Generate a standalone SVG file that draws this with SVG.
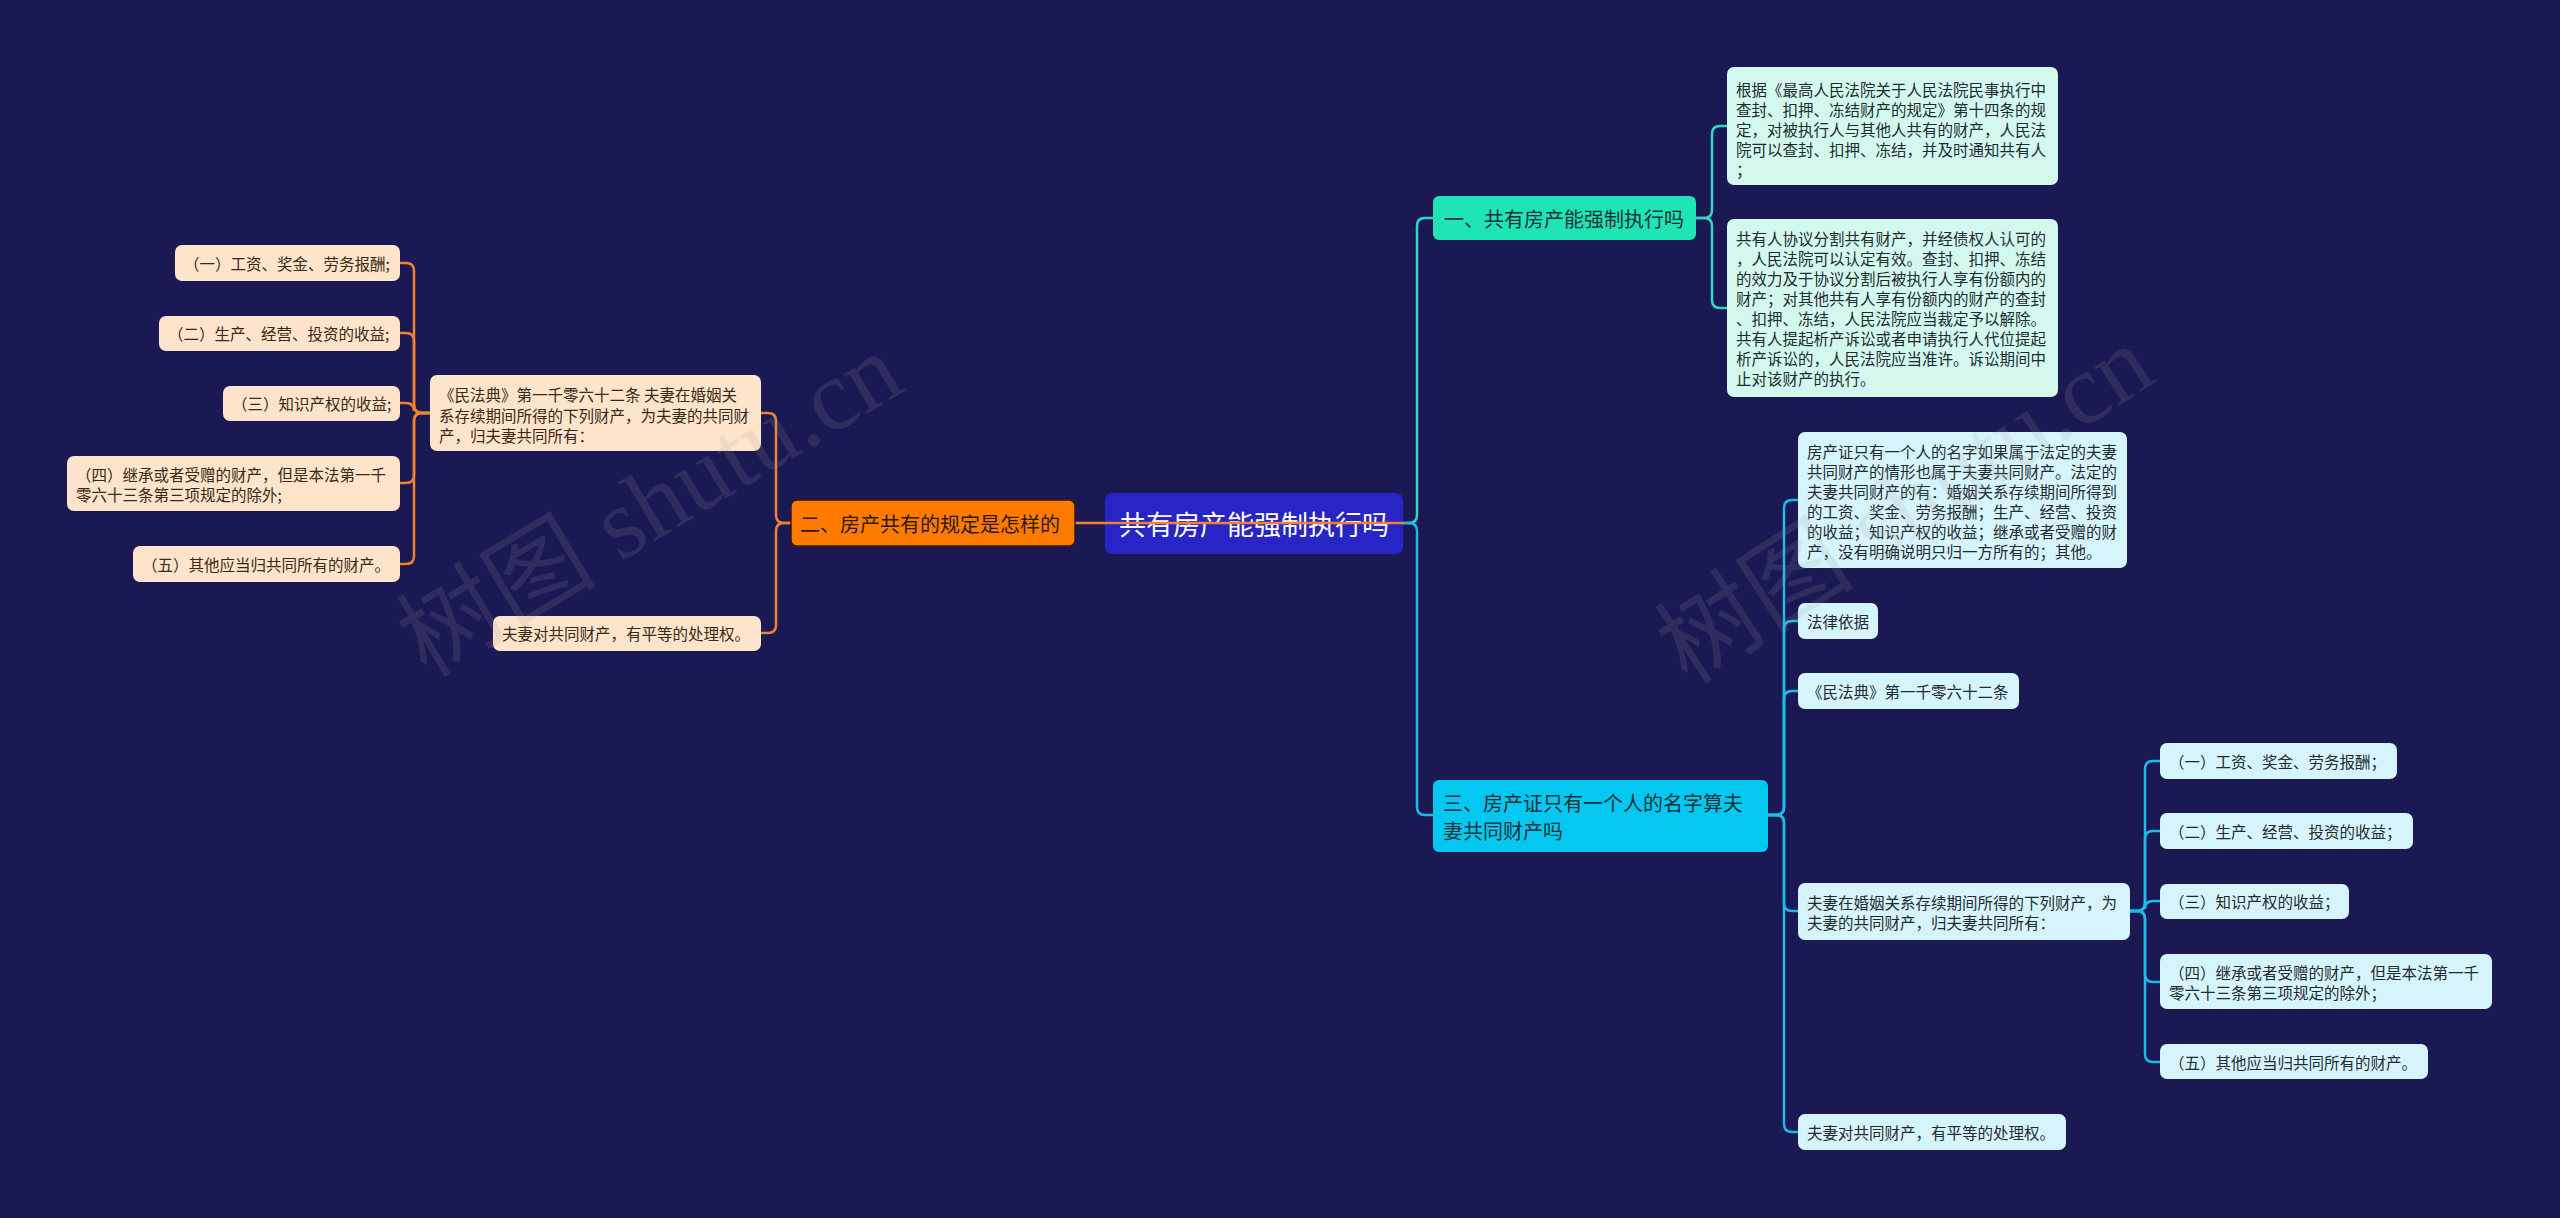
<svg xmlns="http://www.w3.org/2000/svg" width="2560" height="1218" viewBox="0 0 2560 1218">
<style>
text{font-family:"Noto Sans CJK SC","Noto Sans",sans-serif;dominant-baseline:central}
.lf{font-size:15.5px}
.lr{fill:#1e2b30}
.ll{fill:#3a2818}
.br{font-size:20px;fill:#17323a}
.c{stroke-width:2.5;fill:none;stroke-linecap:round}
.teal{stroke:#2fd8c2}
.cyan{stroke:#1bbce8}
.org{stroke:#f0812e}
.mint{fill:#d3f8ee}
.ice{fill:#d6f4fb}
.peach{fill:#fde4ca}
.wm{font-family:"Liberation Serif","Noto Sans CJK SC",serif;font-size:100px;fill:#a0a0a0;opacity:0.15}
</style>
<rect width="2560" height="1218" fill="#1b1953"/>

<g id="connectors">
  <path class="c teal" d="M1403,523 H1409 Q1417,523 1417,515 V226 Q1417,218 1425,218 H1433"/>
  <path class="c cyan" d="M1403,523 H1409 Q1417,523 1417,531 V807 Q1417,815 1425,815 H1433"/>
  <path class="c teal" d="M1696,218 H1704 Q1712,218 1712,210 V134 Q1712,126 1720,126 H1727"/>
  <path class="c teal" d="M1696,218 H1704 Q1712,218 1712,226 V300 Q1712,308 1720,308 H1727"/>
  <path class="c cyan" d="M1768,815 H1776 Q1784,815 1784,807 V508 Q1784,500 1792,500 H1798"/>
  <path class="c cyan" d="M1768,815 H1776 Q1784,815 1784,807 V629 Q1784,621 1792,621 H1798"/>
  <path class="c cyan" d="M1768,815 H1776 Q1784,815 1784,807 V699 Q1784,691 1792,691 H1798"/>
  <path class="c cyan" d="M1768,815 H1776 Q1784,815 1784,823 V903 Q1784,911 1792,911 H1798"/>
  <path class="c cyan" d="M1768,815 H1776 Q1784,815 1784,823 V1124 Q1784,1132 1792,1132 H1798"/>
  <path class="c cyan" d="M2130,911 H2137 Q2145,911 2145,903 V769 Q2145,761 2153,761 H2160"/>
  <path class="c cyan" d="M2130,911 H2137 Q2145,911 2145,903 V839 Q2145,831 2153,831 H2160"/>
  <path class="c cyan" d="M2130,911 H2137 Q2145,911 2145,903 V909 Q2145,901 2153,901 H2160"/>
  <path class="c cyan" d="M2130,911 H2137 Q2145,911 2145,919 V974 Q2145,982 2153,982 H2160"/>
  <path class="c cyan" d="M2130,911 H2137 Q2145,911 2145,919 V1054 Q2145,1062 2153,1062 H2160"/>
  <path class="c org" d="M792,523 H784 Q776,523 776,515 V421 Q776,413 768,413 H761"/>
  <path class="c org" d="M792,523 H784 Q776,523 776,531 V625 Q776,633 768,633 H761"/>
  <path class="c org" d="M430,413 H422 Q414,413 414,405 V271 Q414,263 406,263 H400"/>
  <path class="c org" d="M430,413 H422 Q414,413 414,405 V341 Q414,333 406,333 H400"/>
  <path class="c org" d="M430,413 H422 Q414,413 414,405 V411 Q414,403 406,403 H400"/>
  <path class="c org" d="M430,413 H422 Q414,413 414,421 V475 Q414,483 406,483 H400"/>
  <path class="c org" d="M430,413 H422 Q414,413 414,421 V556 Q414,564 406,564 H400"/>
</g>

<g id="center">
  <rect x="1105" y="493" width="298" height="61" rx="7" fill="#2824c6"/>
  <text x="1254" y="523" font-size="27" fill="#ffffff" text-anchor="middle">共有房产能强制执行吗</text>
</g>
<path class="c org" d="M1076,523 H1403"/>

<g id="branch1">
  <rect x="1433" y="196" width="263" height="44" rx="6" fill="#1fe4b4"/>
  <text class="br" x="1444" y="218">一、共有房产能强制执行吗</text>
</g>
<g id="leaf1a">
  <rect class="mint" x="1727" y="67" width="331" height="118" rx="7"/>
  <text class="lf lr" x="1736"><tspan x="1736" y="89">根据《最高人民法院关于人民法院民事执行中</tspan><tspan x="1736" y="109">查封、扣押、冻结财产的规定》第十四条的规</tspan><tspan x="1736" y="129">定，对被执行人与其他人共有的财产，人民法</tspan><tspan x="1736" y="149">院可以查封、扣押、冻结，并及时通知共有人</tspan><tspan x="1736" y="169">；</tspan></text>
</g>
<g id="leaf1b">
  <rect class="mint" x="1727" y="219" width="331" height="178" rx="7"/>
  <text class="lf lr"><tspan x="1736" y="238">共有人协议分割共有财产，并经债权人认可的</tspan><tspan x="1736" y="258">，人民法院可以认定有效。查封、扣押、冻结</tspan><tspan x="1736" y="278">的效力及于协议分割后被执行人享有份额内的</tspan><tspan x="1736" y="298">财产；对其他共有人享有份额内的财产的查封</tspan><tspan x="1736" y="318">、扣押、冻结，人民法院应当裁定予以解除。</tspan><tspan x="1736" y="338">共有人提起析产诉讼或者申请执行人代位提起</tspan><tspan x="1736" y="358">析产诉讼的，人民法院应当准许。诉讼期间中</tspan><tspan x="1736" y="378">止对该财产的执行。</tspan></text>
</g>

<g id="branch3">
  <rect x="1433" y="780" width="335" height="72" rx="6" fill="#05c8f0"/>
  <text class="br"><tspan x="1443" y="802">三、房产证只有一个人的名字算夫</tspan><tspan x="1443" y="830">妻共同财产吗</tspan></text>
</g>
<g id="leaf3a">
  <rect class="ice" x="1798" y="432" width="329" height="136" rx="7"/>
  <text class="lf lr"><tspan x="1807" y="451">房产证只有一个人的名字如果属于法定的夫妻</tspan><tspan x="1807" y="471">共同财产的情形也属于夫妻共同财产。法定的</tspan><tspan x="1807" y="491">夫妻共同财产的有：婚姻关系存续期间所得到</tspan><tspan x="1807" y="511">的工资、奖金、劳务报酬；生产、经营、投资</tspan><tspan x="1807" y="531">的收益；知识产权的收益；继承或者受赠的财</tspan><tspan x="1807" y="551">产，没有明确说明只归一方所有的；其他。</tspan></text>
</g>
<g id="leaf3b">
  <rect class="ice" x="1798" y="603" width="80" height="36" rx="7"/>
  <text class="lf lr" x="1807" y="621">法律依据</text>
</g>
<g id="leaf3c">
  <rect class="ice" x="1798" y="673" width="221" height="36" rx="7"/>
  <text class="lf lr" x="1807" y="691">《民法典》第一千零六十二条</text>
</g>
<g id="leaf3d">
  <rect class="ice" x="1798" y="883" width="332" height="57" rx="7"/>
  <text class="lf lr"><tspan x="1807" y="902">夫妻在婚姻关系存续期间所得的下列财产，为</tspan><tspan x="1807" y="922">夫妻的共同财产，归夫妻共同所有：</tspan></text>
</g>
<g id="leaf3e">
  <rect class="ice" x="1798" y="1114" width="268" height="36" rx="7"/>
  <text class="lf lr" x="1807" y="1132">夫妻对共同财产，有平等的处理权。</text>
</g>
<g id="leaf3d1">
  <rect class="ice" x="2160" y="743" width="237" height="36" rx="7"/>
  <text class="lf lr" x="2169" y="761">（一）工资、奖金、劳务报酬；</text>
</g>
<g id="leaf3d2">
  <rect class="ice" x="2160" y="813" width="253" height="36" rx="7"/>
  <text class="lf lr" x="2169" y="831">（二）生产、经营、投资的收益；</text>
</g>
<g id="leaf3d3">
  <rect class="ice" x="2160" y="884" width="189" height="35" rx="7"/>
  <text class="lf lr" x="2169" y="901">（三）知识产权的收益；</text>
</g>
<g id="leaf3d4">
  <rect class="ice" x="2160" y="954" width="332" height="55" rx="7"/>
  <text class="lf lr"><tspan x="2169" y="972">（四）继承或者受赠的财产，但是本法第一千</tspan><tspan x="2169" y="992">零六十三条第三项规定的除外；</tspan></text>
</g>
<g id="leaf3d5">
  <rect class="ice" x="2160" y="1044" width="268" height="35" rx="7"/>
  <text class="lf lr" x="2169" y="1062">（五）其他应当归共同所有的财产。</text>
</g>

<g id="branch2">
  <rect x="791" y="500" width="284" height="46" rx="6" fill="#ff7b00" stroke="#3a1c08" stroke-width="1.5"/>
  <text x="800" y="523" font-size="20" fill="#2a1a10">二、房产共有的规定是怎样的</text>
</g>
<g id="leafL1">
  <rect class="peach" x="430" y="375" width="331" height="76" rx="7"/>
  <text class="lf ll"><tspan x="439" y="394">《民法典》第一千零六十二条 夫妻在婚姻关</tspan><tspan x="439" y="414.5">系存续期间所得的下列财产，为夫妻的共同财</tspan><tspan x="439" y="435">产，归夫妻共同所有：</tspan></text>
</g>
<g id="leafL2">
  <rect class="peach" x="493" y="616" width="268" height="35" rx="7"/>
  <text class="lf ll" x="502" y="633">夫妻对共同财产，有平等的处理权。</text>
</g>
<g id="leafL1a">
  <rect class="peach" x="175" y="245" width="225" height="36" rx="7"/>
  <text class="lf ll" x="184" y="263">（一）工资、奖金、劳务报酬;</text>
</g>
<g id="leafL1b">
  <rect class="peach" x="159" y="316" width="241" height="35" rx="7"/>
  <text class="lf ll" x="168" y="333">（二）生产、经营、投资的收益;</text>
</g>
<g id="leafL1c">
  <rect class="peach" x="223" y="386" width="177" height="35" rx="7"/>
  <text class="lf ll" x="232" y="403">（三）知识产权的收益;</text>
</g>
<g id="leafL1d">
  <rect class="peach" x="67" y="456" width="333" height="55" rx="7"/>
  <text class="lf ll"><tspan x="76" y="474">（四）继承或者受赠的财产，但是本法第一千</tspan><tspan x="76" y="494">零六十三条第三项规定的除外;</tspan></text>
</g>
<g id="leafL1e">
  <rect class="peach" x="133" y="546" width="267" height="36" rx="7"/>
  <text class="lf ll" x="142" y="564">（五）其他应当归共同所有的财产。</text>
</g>

<text class="wm" x="650" y="505" text-anchor="middle" transform="rotate(-31 650 505)">树图 shutu.cn</text>
<text class="wm" x="1905" y="505" text-anchor="middle" transform="rotate(-33 1905 505)">树图 shutu.cn</text>
</svg>
